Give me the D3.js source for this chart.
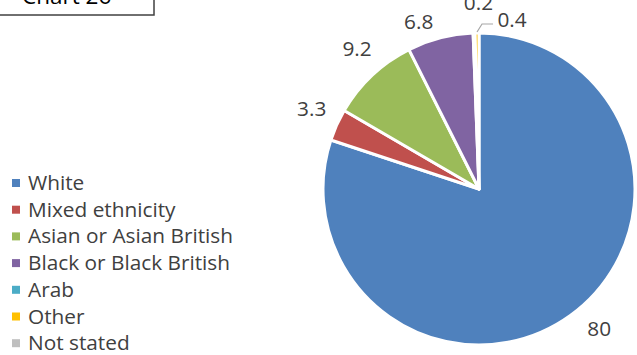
<!DOCTYPE html>
<html>
<head>
<meta charset="utf-8">
<script src="https://cdn.jsdelivr.net/npm/d3@7"></script>
<style>
  html, body { margin: 0; padding: 0; background: #fff; }
  svg { display: block; font-family: "Open Sans", "Noto Sans", sans-serif; }
</style>
</head>
<body>
<svg id="chart" width="637" height="355"></svg>
<script>
// Ethnicity breakdown (%)
const categories = ["White", "Mixed ethnicity", "Asian or Asian British", "Black or Black British", "Arab", "Other", "Not stated"];
const values = [80, 3.3, 9.2, 6.8, 0.2, 0.4, 0];
const colors = ["#4F81BD", "#C0504D", "#9BBB59", "#8064A2", "#4BACC6", "#FFC000", "#BFBFBF"];

// Label placement tweaks (pixels) relative to the outside-end anchor
const labelNudge = [[16, -4], [-5, -7], [0, -10], [-16, 5], [0, 0], [0, 0], [0, 0]];

const svg = d3.select("#chart");
const cx = 479, cy = 189, r = 156;
const textColor = "#404040";
const fs = 20.8;

// Title box, running off the top edge
svg.append("rect")
  .attr("x", -2).attr("y", -30).attr("width", 156).attr("height", 45)
  .attr("fill", "#fff").attr("stroke", "#404040").attr("stroke-width", 1.5);
svg.append("text")
  .attr("x", 22).attr("y", 4)
  .attr("font-size", 22.5).attr("fill", "#000")
  .text("Chart 26");

const data = categories.map((c, i) => ({ name: c, value: values[i], color: colors[i], i }));

const pie = d3.pie().value(d => d.value).sort(null);
const arcs = pie(data);
const arc = d3.arc().innerRadius(0).outerRadius(r);

const g = svg.append("g").attr("transform", `translate(${cx},${cy})`);

g.selectAll("path.slice")
  .data(arcs.filter(a => a.data.value > 0))
  .join("path")
  .attr("class", "slice")
  .attr("d", arc)
  .attr("fill", d => d.data.color)
  .attr("stroke", "#fff")
  .attr("stroke-width", 3)
  .attr("stroke-linejoin", "round");

// Data labels
const labelR = r + 22;
const labelArc = d3.arc().innerRadius(labelR).outerRadius(labelR);
const labelled = arcs.filter(a => a.data.value > 0);

function addLabel(x, y, v) {
  g.append("text")
    .attr("x", x).attr("y", y + 7)
    .attr("text-anchor", "middle")
    .attr("font-size", fs).attr("fill", textColor)
    .text(v);
}

labelled.forEach(a => {
  const i = a.data.i;
  if (a.data.name === "Arab") {
    // Crowded thin slice: pushed up above its neighbour
    const [mx] = labelArc.centroid(a);
    addLabel(mx + 5, -r - 30, a.data.value);
  } else if (a.data.name === "Other") {
    // Thin slice: label set aside with a leader line
    const mid = (a.startAngle + a.endAngle) / 2;
    const sx = Math.sin(mid) * (r + 1), sy = -Math.cos(mid) * (r + 1);
    const ex = sx + 5, ey = sy - 8;
    g.append("path")
      .attr("d", `M${sx},${sy}L${ex},${ey}L${ex + 11},${ey}`)
      .attr("fill", "none").attr("stroke", "#A6A6A6").attr("stroke-width", 1.2);
    addLabel(ex + 30, ey - 4, a.data.value);
  } else {
    const [mx, my] = labelArc.centroid(a);
    addLabel(mx + labelNudge[i][0], my + labelNudge[i][1], a.data.value);
  }
});

// Legend
const legend = svg.append("g").attr("transform", "translate(12,183)");
const rowH = 26.7;
const item = legend.selectAll("g.item")
  .data(data)
  .join("g")
  .attr("class", "item")
  .attr("transform", (d, i) => `translate(0,${i * rowH})`);
item.append("rect")
  .attr("x", 0).attr("y", -4).attr("width", 8).attr("height", 8)
  .attr("fill", d => d.color);
item.append("text")
  .attr("x", 16).attr("y", 7)
  .attr("font-size", fs).attr("fill", textColor)
  .text(d => d.name);
</script>
</body>
</html>
